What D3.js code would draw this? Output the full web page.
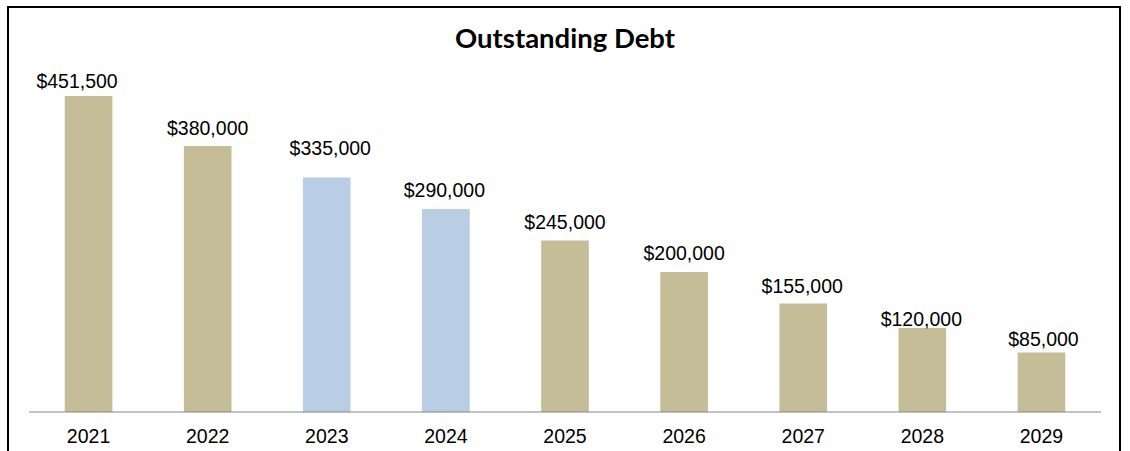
<!DOCTYPE html>
<html><head><meta charset="utf-8">
<script src="https://cdn.jsdelivr.net/npm/d3@7"></script>
<style>body{margin:0;background:#fff}svg{display:block}</style>
</head><body>
<script>
const years = ["2021","2022","2023","2024","2025","2026","2027","2028","2029"];
const debt = [451500,380000,335000,290000,245000,200000,155000,120000,85000];
const highlighted = ["2023","2024"];
// manual label nudges (layout only): horizontal shift and gap above bar, px
const labelDx = [-11.5,0,3.5,-1.5,0,0,-1,-1,2];
const labelGap = [8,11.3,22.4,11.7,11.3,11.7,10.7,2.3,6.7];

const W = 1130, H = 451;
const svg = d3.select("body").append("svg").attr("width", W).attr("height", H);

svg.append("rect").attr("x",8).attr("y",7).attr("width",1112).attr("height",460)
  .attr("fill","#fff").attr("stroke","#000").attr("stroke-width",2);

const x = d3.scaleBand().domain(years).range([29,1101]).paddingInner(0.6).paddingOuter(0.3);
const y = d3.scaleLinear().domain([0,500000]).range([412,62]);

svg.append("text").attr("x",565).attr("y",48).attr("text-anchor","middle")
  .attr("font-family","Lato, 'Open Sans', sans-serif").attr("font-weight","bold")
  .attr("font-size",27.5).text("Outstanding Debt");

const g = svg.append("g");
g.selectAll("rect.bar").data(years).join("rect").attr("class","bar")
  .attr("x", d=>x(d)).attr("width", x.bandwidth())
  .attr("y", (d,i)=>y(debt[i])).attr("height",(d,i)=>y(0)-y(debt[i]))
  .attr("fill", d=>highlighted.includes(d) ? "#B9CDE5" : "#C4BD97");

const fmt = d3.format("$,");
g.selectAll("text.lbl").data(years).join("text").attr("class","lbl")
  .attr("x", (d,i)=>x(d)+x.bandwidth()/2+labelDx[i]).attr("y",(d,i)=>y(debt[i])-labelGap[i])
  .attr("text-anchor","middle").attr("font-family","'Liberation Sans', Arial, sans-serif")
  .attr("font-size",19.5).attr("fill","#000").text((d,i)=>fmt(debt[i]));

const ax = svg.append("g").attr("transform","translate(0,412)")
  .call(d3.axisBottom(x).tickSize(0).tickPadding(0));
ax.select(".domain").attr("stroke","#868686").attr("stroke-width",1.2).attr("d","M29,0H1101");
ax.selectAll(".tick text").attr("font-family","'Liberation Sans', Arial, sans-serif")
  .attr("font-size",19.5).attr("fill","#000").attr("dy",null).attr("y",31);
</script>
</body></html>
